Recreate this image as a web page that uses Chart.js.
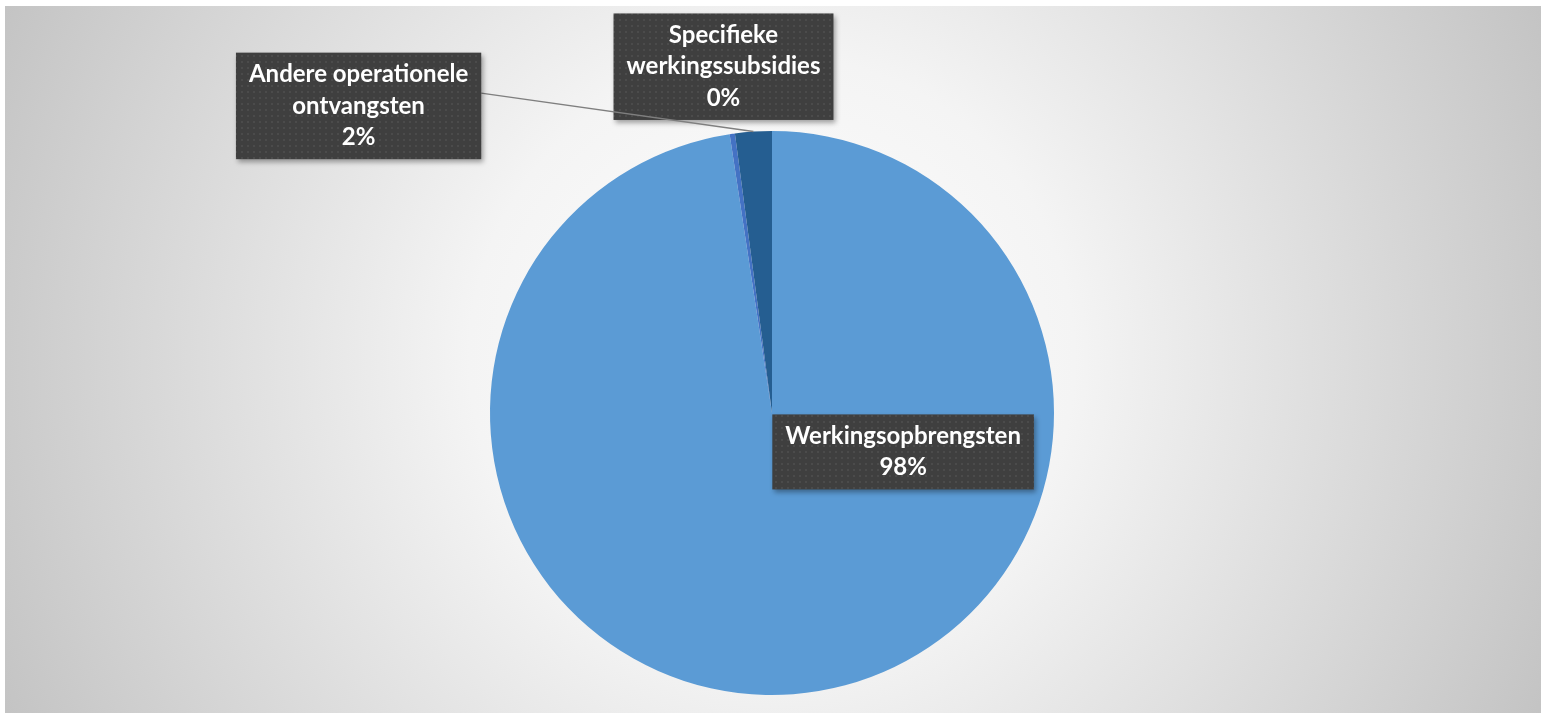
<!DOCTYPE html>
<html>
<head>
<meta charset="utf-8">
<script src="https://cdn.jsdelivr.net/npm/chart.js@4.4.1/dist/chart.umd.min.js"></script>
<style>
    html, body { margin: 0; padding: 0; background: #fff; }
    #wrap { width: 1544px; height: 716px; }
</style>
</head>
<body>
<div id="wrap"><canvas id="pieChart" width="1544" height="716"></canvas></div>
<script>
const categories = ['Werkingsopbrengsten', 'Specifieke werkingssubsidies', 'Andere operationele ontvangsten'];
const values = [97.6, 0.3, 2.1];
const sliceColors = ['#5B9BD5', '#4472C4', '#255E91'];
const labelLines = [
    ['Werkingsopbrengsten', '98%'],
    ['Specifieke', 'werkingssubsidies', '0%'],
    ['Andere operationele', 'ontvangsten', '2%']
];
// label box centre, relative to pie centre in units of the radius
const labelSpots = [
    { dx: 0.465, dy: 0.138, leader: false },
    { dx: -0.172, dy: -1.228, leader: false },
    { dx: -1.466, dy: -1.089, leader: true }
];

function makeDotPattern(ctx) {
    const c = document.createElement('canvas');
    c.width = 6;
    c.height = 6;
    const p = c.getContext('2d');
    p.fillStyle = '#3f3f3f';
    p.fillRect(0, 0, 6, 6);
    p.fillStyle = '#4b4b4b';
    p.fillRect(1, 1, 2, 2);
    return ctx.createPattern(c, 'repeat');
}

const backgroundPlugin = {
    id: 'gradientBackground',
    beforeDraw(chart) {
        const ctx = chart.ctx;
        const w = chart.width, h = chart.height;
        ctx.save();
        ctx.fillStyle = '#ffffff';
        ctx.fillRect(0, 0, w, h);
        const g = ctx.createRadialGradient(w / 2, h / 2, 0, w / 2, h / 2, w * 0.56);
        g.addColorStop(0, '#ffffff');
        g.addColorStop(0.35, '#f4f4f4');
        g.addColorStop(1, '#c2c2c2');
        ctx.fillStyle = g;
        ctx.fillRect(5, 6, w - 8, h - 9);
        ctx.restore();
    }
};

const labelBoxPlugin = {
    id: 'labelBoxes',
    afterDatasetsDraw(chart) {
        const ctx = chart.ctx;
        const meta = chart.getDatasetMeta(0);
        const arc0 = meta.data[0];
        const cx = arc0.x, cy = arc0.y, r = arc0.outerRadius;
        const pattern = makeDotPattern(ctx);
        const fontSize = 24;
        const lineH = 31.5;
        ctx.save();
        ctx.font = `bold ${fontSize}px Lato, "Open Sans", sans-serif`;
        ctx.textAlign = 'center';
        ctx.textBaseline = 'middle';
        for (let i = 0; i < labelLines.length; i++) {
            const lines = labelLines[i];
            const spot = labelSpots[i];
            let maxW = 0;
            for (const t of lines) maxW = Math.max(maxW, ctx.measureText(t).width);
            const bw = maxW + 26;
            const bh = lines.length * lineH + 12;
            const bx = cx + spot.dx * r - bw / 2;
            const by = cy + spot.dy * r - bh / 2;

            if (spot.leader) {
                const arc = meta.data[i];
                const mid = (arc.startAngle + arc.endAngle) / 2;
                ctx.beginPath();
                ctx.strokeStyle = '#7f7f7f';
                ctx.lineWidth = 1.5;
                ctx.moveTo(bx + bw, by + bh * 0.38);
                ctx.lineTo(cx + Math.cos(mid) * r, cy + Math.sin(mid) * r);
                ctx.stroke();
            }

            ctx.shadowColor = 'rgba(0,0,0,0.35)';
            ctx.shadowBlur = 5;
            ctx.shadowOffsetX = 2;
            ctx.shadowOffsetY = 3;
            ctx.fillStyle = pattern;
            ctx.fillRect(bx, by, bw, bh);
            ctx.shadowColor = 'transparent';

            ctx.fillStyle = '#ffffff';
            for (let j = 0; j < lines.length; j++) {
                ctx.fillText(lines[j], bx + bw / 2, by + 6 + lineH * (j + 0.5));
            }
        }
        ctx.restore();
    }
};

const ctx = document.getElementById('pieChart').getContext('2d');
const pieChart = new Chart(ctx, {
    type: 'pie',
    data: {
        labels: categories,
        datasets: [{
            data: values,
            backgroundColor: sliceColors,
            borderWidth: 0
        }]
    },
    options: {
        responsive: false,
        animation: false,
        layout: { padding: { top: 131, bottom: 21, left: 0, right: 0 } },
        plugins: {
            legend: { display: false },
            tooltip: { enabled: false }
        }
    },
    plugins: [backgroundPlugin, labelBoxPlugin]
});
</script>
</body>
</html>
